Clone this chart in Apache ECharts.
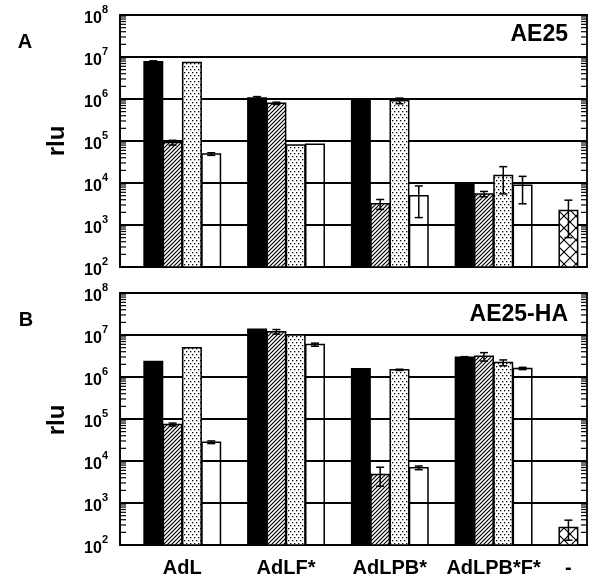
<!DOCTYPE html>
<html><head><meta charset="utf-8">
<script src="https://cdn.jsdelivr.net/npm/echarts@6/dist/echarts.min.js"></script>
<style>html,body{margin:0;padding:0;background:#fff}#c{width:596px;height:578px}</style>
</head><body><div id="c"></div>
<script>
// ---------- data ----------
const categories = ['AdL', 'AdLF*', 'AdLPB*', 'AdLPB*F*', '-'];

// Panel A (AE25)
const aBlack    = [7.7e6, 1.05e6, 1.0e6, 1.0e4];
const aBlackErr = [4e5, 9e4, 0, 0];
const aHatch    = [9.2e4, 7.9e5, 3.2e3, 5.5e3];
const aHatchErr = [1.2e4, 5e4, 8.5e2, 8e2];
const aDot      = [7.4e6, 8.0e4, 9.1e5, 1.5e4];
const aDotErr   = [0, 0, 1.4e5, 9.5e3];
const aWhite    = [4.9e4, 8.4e4, 5.0e3, 8.8e3];
const aWhiteErr = [3.5e3, 0, 3.5e3, 5.6e3];
const aCtrl     = [2.2e3];
const aCtrlErr  = [1.7e3];

// Panel B (AE25-HA)
const bBlack    = [2.35e6, 1.38e7, 1.57e6, 2.95e6];
const bBlackErr = [0, 0, 0, 1e5];
const bHatch    = [7.4e4, 1.2e7, 4.8e3, 3.1e6];
const bHatchErr = [6e3, 1.5e6, 2.3e3, 7e5];
const bDot      = [5.0e6, 1.0e7, 1.48e6, 2.2e6];
const bDotErr   = [0, 0, 5e4, 3.5e5];
const bWhite    = [2.8e4, 5.9e6, 6.9e3, 1.6e6];
const bWhiteErr = [2e3, 5e5, 7e2, 1e5];
const bCtrl     = [2.6e2];
const bCtrlErr  = [1.3e2];

// minor (log) tick values: 2..9 x 10^n
const minorTickValues = [];
for (let n = 2; n < 8; n++) for (let k = 2; k <= 9; k++) minorTickValues.push(k * Math.pow(10, n));

// ---------- styling / layout ----------
const FONT = "'Liberation Sans', Arial, Helvetica, sans-serif";
const YMIN = 1e2, YMAX = 1e8;
const SLOT_U = 0.186;   // slot spacing in x-axis units
const BAR_U = 0.178;    // bar width in x-axis units

function makeCanvas(w, h, draw) {
  const c = document.createElement('canvas');
  c.width = w; c.height = h;
  const ctx = c.getContext('2d');
  ctx.fillStyle = '#fff'; ctx.fillRect(0, 0, w, h);
  draw(ctx);
  return c;
}
const hatchImg = makeCanvas(4, 4, ctx => {
  ctx.strokeStyle = '#000'; ctx.lineWidth = 1.2;
  ctx.beginPath();
  ctx.moveTo(-1, 5); ctx.lineTo(5, -1);
  ctx.moveTo(-1, 1); ctx.lineTo(1, -1);
  ctx.moveTo(3, 5); ctx.lineTo(5, 3);
  ctx.stroke();
});
const dotImg = makeCanvas(4, 6, ctx => {
  ctx.fillStyle = '#000';
  ctx.fillRect(0, 0, 1.3, 1.3);
  ctx.fillRect(2, 3, 1.3, 1.3);
});
const crossImg = makeCanvas(12, 12, ctx => {
  ctx.strokeStyle = '#000'; ctx.lineWidth = 1.2;
  ctx.beginPath();
  ctx.moveTo(0, 12); ctx.lineTo(12, 0);
  ctx.moveTo(0, 0); ctx.lineTo(12, 12);
  ctx.stroke();
});
const fills = {
  black: '#000',
  hatch: { image: hatchImg, repeat: 'repeat' },
  dot: { image: dotImg, repeat: 'repeat' },
  white: 'transparent',
  cross: { image: crossImg, repeat: 'repeat' }
};

function barSeries(grid, vals, errs, slot, fillKey, groupOffset) {
  return {
    type: 'custom',
    xAxisIndex: grid, yAxisIndex: grid,
    data: vals.map((v, i) => [i + (groupOffset || 0), v, errs[i]]),
    encode: { x: 0, y: 1 },
    clip: false,
    renderItem: function (params, api) {
      const g = api.value(0), v = api.value(1), e = api.value(2);
      const xv = g + (slot - 1.5) * SLOT_U;
      const top = api.coord([xv, v]);
      const base = api.coord([xv, YMIN]);
      const bw = api.size([BAR_U, 0])[0];
      const children = [{
        type: 'rect',
        shape: { x: top[0] - bw / 2, y: top[1], width: bw, height: base[1] - top[1] },
        style: { fill: fills[fillKey], stroke: '#000', lineWidth: 1.5 }
      }];
      if (e > 0) {
        const hi = api.coord([xv, v + e])[1];
        const lo = api.coord([xv, Math.max(v - e, YMIN)])[1];
        const cw = 4;
        children.push({ type: 'line', shape: { x1: top[0], y1: hi, x2: top[0], y2: lo }, style: { stroke: '#000', lineWidth: 1.5 } });
        children.push({ type: 'line', shape: { x1: top[0] - cw, y1: hi, x2: top[0] + cw, y2: hi }, style: { stroke: '#000', lineWidth: 1.5 } });
        children.push({ type: 'line', shape: { x1: top[0] - cw, y1: lo, x2: top[0] + cw, y2: lo }, style: { stroke: '#000', lineWidth: 1.5 } });
      }
      return { type: 'group', children: children };
    }
  };
}

// minor log ticks on both inner edges of the plot, placed by the log axis
function minorTickSeries(grid) {
  return {
    type: 'custom',
    xAxisIndex: grid, yAxisIndex: grid,
    data: minorTickValues.map(v => [0, v]),
    encode: { x: 0, y: 1 },
    z: 5,
    silent: true,
    renderItem: function (params, api) {
      const cs = params.coordSys;
      const y = api.coord([0, api.value(1)])[1];
      const L = 6;
      return {
        type: 'group', children: [
          { type: 'line', shape: { x1: cs.x, y1: y, x2: cs.x + L, y2: y }, style: { stroke: '#000', lineWidth: 1.2 } },
          { type: 'line', shape: { x1: cs.x + cs.width - L, y1: y, x2: cs.x + cs.width, y2: y }, style: { stroke: '#000', lineWidth: 1.2 } }
        ]
      };
    }
  };
}

function mainYAxis(grid) {
  return {
    type: 'log', logBase: 10, gridIndex: grid, min: YMIN, max: YMAX, splitNumber: 6, position: 'left',
    axisLine: { show: true, onZero: false, lineStyle: { color: '#000', width: 1.5 } },
    axisTick: { show: false },
    minorTick: { show: false },
    splitLine: { show: true, lineStyle: { color: '#000', width: 1.8 } },
    axisLabel: {
      margin: 12,
      formatter: v => '{b|10}{s|' + Math.round(Math.log10(v)) + '}',
      rich: {
        b: { fontSize: 16, fontWeight: 'bold', fontFamily: FONT, color: '#000', lineHeight: 16, padding: [8, 0, 0, 0] },
        s: { fontSize: 11, fontWeight: 'bold', fontFamily: FONT, color: '#000', lineHeight: 11, padding: [0, 0, 10, 0] }
      }
    }
  };
}

const labelPositions = categories.map((c, i) => i === categories.length - 1 ? i - 1.5 * SLOT_U : i);

function xAxis(grid, showLabels) {
  return {
    type: 'value', gridIndex: grid, min: -0.6, max: 3.9,
    axisLine: { show: true, onZero: false, lineStyle: { color: '#000', width: 1.5 } },
    axisTick: { show: false }, splitLine: { show: false },
    axisLabel: {
      show: showLabels, customValues: labelPositions, margin: 13,
      formatter: v => categories[Math.round(v)],
      fontSize: 20, fontWeight: 'bold', fontFamily: FONT, color: '#000'
    }
  };
}

const chart = echarts.init(document.getElementById('c'), null, { renderer: 'canvas' });
chart.setOption({
  animation: false,
  backgroundColor: '#fff',
  grid: [
    { left: 120, top: 15, width: 467, height: 252, show: true, borderColor: '#000', borderWidth: 1.8 },
    { left: 120, top: 293, width: 467, height: 253, show: true, borderColor: '#000', borderWidth: 1.8 }
  ],
  xAxis: [xAxis(0, false), xAxis(1, true)],
  yAxis: [mainYAxis(0), mainYAxis(1)],
  series: [
    minorTickSeries(0),
    minorTickSeries(1),
    barSeries(0, aBlack, aBlackErr, 0, 'black'),
    barSeries(0, aHatch, aHatchErr, 1, 'hatch'),
    barSeries(0, aDot, aDotErr, 2, 'dot'),
    barSeries(0, aWhite, aWhiteErr, 3, 'white'),
    barSeries(0, aCtrl, aCtrlErr, 0, 'cross', 4),
    barSeries(1, bBlack, bBlackErr, 0, 'black'),
    barSeries(1, bHatch, bHatchErr, 1, 'hatch'),
    barSeries(1, bDot, bDotErr, 2, 'dot'),
    barSeries(1, bWhite, bWhiteErr, 3, 'white'),
    barSeries(1, bCtrl, bCtrlErr, 0, 'cross', 4)
  ],
  graphic: [
    { type: 'text', x: 25, y: 42, style: { text: 'A', font: 'bold 20px ' + FONT, fill: '#000', align: 'center', verticalAlign: 'middle', textAlign: 'center', textVerticalAlign: 'middle' } },
    { type: 'text', x: 26, y: 320, style: { text: 'B', font: 'bold 20px ' + FONT, fill: '#000', align: 'center', verticalAlign: 'middle', textAlign: 'center', textVerticalAlign: 'middle' } },
    { type: 'text', x: 568, y: 35, style: { text: 'AE25', font: 'bold 23px ' + FONT, fill: '#000', align: 'right', verticalAlign: 'middle', textAlign: 'right', textVerticalAlign: 'middle' } },
    { type: 'text', x: 568, y: 315, style: { text: 'AE25-HA', font: 'bold 23px ' + FONT, fill: '#000', align: 'right', verticalAlign: 'middle', textAlign: 'right', textVerticalAlign: 'middle' } },
    { type: 'text', x: 57, y: 141, rotation: Math.PI / 2, style: { text: 'rlu', font: 'bold 24px ' + FONT, fill: '#000', align: 'center', verticalAlign: 'middle', textAlign: 'center', textVerticalAlign: 'middle' } },
    { type: 'text', x: 57, y: 420, rotation: Math.PI / 2, style: { text: 'rlu', font: 'bold 24px ' + FONT, fill: '#000', align: 'center', verticalAlign: 'middle', textAlign: 'center', textVerticalAlign: 'middle' } }
  ]
});
</script></body></html>
